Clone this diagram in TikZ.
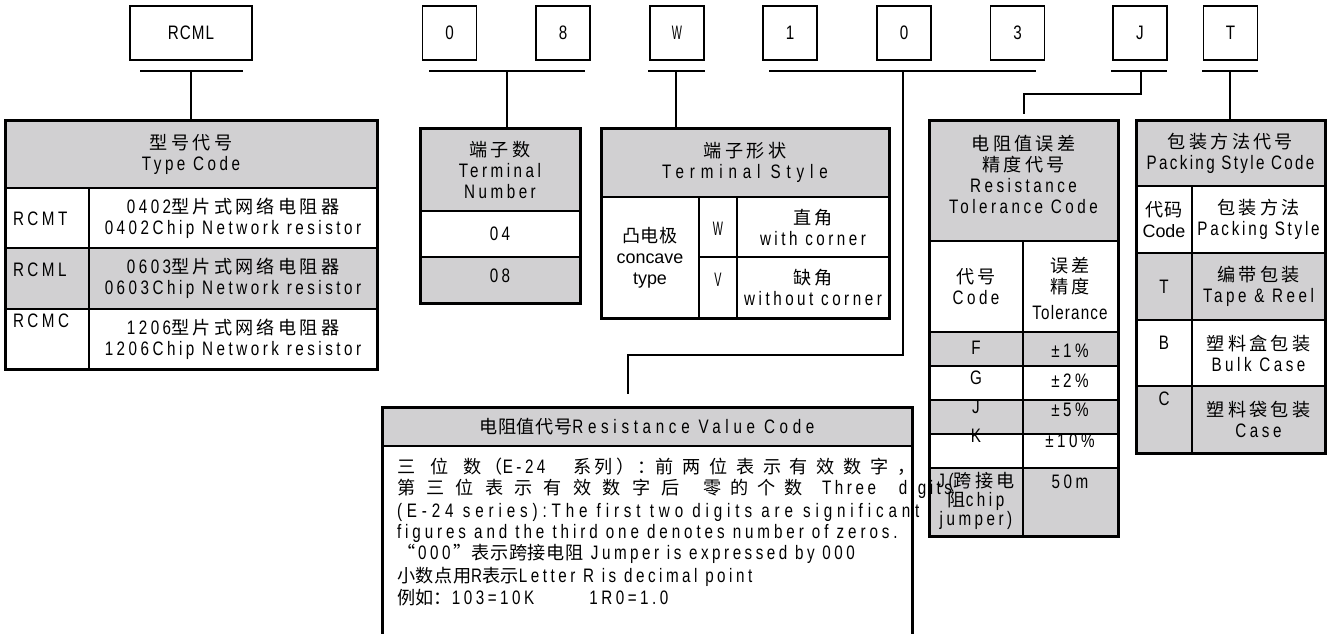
\documentclass[tikz,border=0pt]{standalone}
\usepackage{fontspec}
\usepackage{xcolor}
\setmainfont{Liberation Sans}[FakeStretch = 0.78, LetterSpace = 18]
\newfontfamily\cjk{Noto Sans CJK SC}[Scale = 0.93, LetterSpace = 18]
\newfontfamily\cjkw{Noto Sans CJK SC}[Scale = 0.93, LetterSpace = 48]
\newfontfamily\cjkww{Noto Sans CJK SC}[Scale = 0.93, LetterSpace = 62]
\newfontfamily\cjkn{Noto Sans CJK SC}[Scale = 0.93, LetterSpace = 3]
\newfontfamily\plainf{Liberation Sans}[Scale = 0.92]
\newfontfamily\thinf{Liberation Sans}[FakeStretch = 0.55]
\definecolor{cellgray}{RGB}{209,208,210}

\begin{document}
\begin{tikzpicture}[x = 1pt, y = -1pt,
                    every node/.append style = {inner sep = 0pt, outer sep = 0pt, font = \fontsize{19.5}{21}\selectfont},
                    cell/.style = {draw, line width = 1.9pt, anchor = north west, align = center},
                    cellsize/.style 2 args = {minimum width = #1pt, minimum height = #2pt},
                    darkcell/.style = {fill = cellgray},
                    codebox/.style = {draw, line width = 1.9pt, minimum width = 54pt, minimum height = 54pt},
                    thinchar/.style = {font = {\fontsize{19.5}{21}\thinf}},
                    tag/.style = {anchor = west},
                    textline/.style = {anchor = west},
                    bar/.style = {line width = 1.9pt},
                    link/.style = {line width = 1.9pt},
                    frame/.style = {line width = 3pt}]
                \useasboundingbox (0,0) rectangle (1334,633);
                \node[codebox, minimum width = 122pt] (rcml) at (191,33) {\addfontfeature{LetterSpace = 5}RCML};
                \node[codebox] (d0) at (449.5,33) {0};
                \node[codebox] (d8) at (563,33) {8};
                \node[codebox, thinchar] (dw) at (677,33) {W};
                \node[codebox] (d1) at (790,33) {1};
                \node[codebox] (d0b) at (904,33) {0};
                \node[codebox] (d3) at (1017.5,33) {3};
                \node[codebox] (dj) at (1140,33) {J};
                \node[codebox] (dt) at (1230.5,33) {T};
                \foreach \a/\b in {140/243, 429/585, 648/705, 769/1036, 1111/1167, 1202/1258}
                    \draw[bar] (\a,71) -- (\b,71);
                \coordinate (type-bar) at (191,71);
                \coordinate (num-bar) at (507,71);
                \coordinate (shape-bar) at (676,71);
                \coordinate (val-bar) at (903,71);
                \coordinate (tol-bar) at (1141,71);
                \coordinate (pack-bar) at (1230,71);

                \node[cell, cellsize = {372}{68}, darkcell] (typehead) at (5,120) {{\cjk 型号代号}\\Type Code};
                \node[cell, cellsize = {84}{60}] (rcmt) at (5,188) {};
                \node[cell, cellsize = {288}{60}] (rcmt-desc) at (89,188) {0402{\cjk 型片式网络电阻器}\\0402Chip Network resistor};
                \node[cell, cellsize = {84}{61}, darkcell] (rcml-row) at (5,248) {};
                \node[cell, cellsize = {288}{61}, darkcell] (rcml-desc) at (89,248) {0603{\cjk 型片式网络电阻器}\\0603Chip Network resistor};
                \node[cell, cellsize = {84}{60}] (rcmc) at (5,309) {};
                \node[cell, cellsize = {288}{60}] (rcmc-desc) at (89,309) {1206{\cjk 型片式网络电阻器}\\1206Chip Network resistor};
                \node[tag] (rcmt-tag) at (13,219) {RCMT};
                \node[tag] (rcml-tag) at (13,270) {RCML};
                \node[tag] (rcmc-tag) at (13,321) {RCMC};
                \draw[frame] (typehead.north west) rectangle (rcmc-desc.south east);

                \node[cell, cellsize = {160}{83}, darkcell] (numhead) at (420,128) {{\cjk 端子数}\\Terminal\\Number};
                \node[cell, cellsize = {160}{46}] (num04) at (420,211) {04};
                \node[cell, cellsize = {160}{46}, darkcell] (num08) at (420,257) {};
                \node (num08-tag) at (500,276) {08};
                \draw[frame] (numhead.north west) rectangle (num08.south east);

                \node[cell, cellsize = {288}{69}, darkcell] (stylehead) at (601,128) {{\cjk 端子形状}\\{\addfontfeature{LetterSpace = 30}Terminal Style}};
                \node[cell, cellsize = {98}{121}] (concave) at (601,197) {{\cjkn 凸电极}\\{\plainf concave}\\{\plainf type}};
                \node[cell, cellsize = {38}{60}] (style-w) at (699,197) {};
                \node[cell, cellsize = {38}{61}] (style-v) at (699,257) {};
                \node[cell, cellsize = {152}{60}] (corner) at (737,197) {{\cjk 直角}\\with corner};
                \node[cell, cellsize = {152}{61}] (nocorner) at (737,257) {{\cjk 缺角}\\without corner};
                \node[thinchar] (w-tag) at (718,229) {W};
                \node[thinchar] (v-tag) at (718,280) {V};
                \draw[frame] (stylehead.north west) rectangle (nocorner.south east);

                \node[cell, cellsize = {189}{121}, darkcell] (tolhead) at (929,120) {};
                \node[align = center] (tolhead-text) at (1023.5,174) {{\cjk 电阻值误差}\\{\cjk 精度代号}\\Resistance\\Tolerance Code};
                \node[cell, cellsize = {94}{91}] (codehd) at (929,241) {{\cjk 代号}\\Code};
                \node[cell, cellsize = {95}{91}] (tolhd) at (1023,241) {};
                \node[align = center] (tolhd-text) at (1070,288) {{\cjk 误差}\\{\cjk 精度}\\[5pt]{\addfontfeature{LetterSpace = 6}Tolerance}};
                \foreach \y/\h/\f [count = \i] in {332/34/darkcell, 366/34/, 400/34/darkcell, 434/34/, 468/68/darkcell} {
                    \node[cell, cellsize = {94}{\h}, \f] (tolcode-\i) at (929,\y) {};
                    \node[cell, cellsize = {95}{\h}, \f] (tolval-\i) at (1023,\y) {};
                }
                \node (code-f) at (976,348) {F};
                \node (code-g) at (976,378) {G};
                \node (code-j) at (976,407) {J};
                \node (code-k) at (976,436) {K};
                \node (val-f) at (1070,351) {±1\%};
                \node (val-g) at (1070,381) {±2\%};
                \node (val-j) at (1070,410) {±5\%};
                \node (val-k) at (1070,441) {±10\%};
                \node[align = center, font = \fontsize{19.5}{18}\selectfont] (code-jumper) at (976,501) {J({\cjk 跨接电}\\{\cjk 阻}chip\\jumper)};
                \node (val-jumper) at (1070,482) {50m};
                \draw[frame] (tolhead.north west) rectangle (tolval-5.south east);

                \node[cell, cellsize = {189}{66}, darkcell] (packhead) at (1136,120) {{\cjk 包装方法代号}\\{\addfontfeature{LetterSpace = 12}Packing Style Code}};
                \node[cell, cellsize = {56}{67}] (packcode) at (1136,186) {{\cjkn 代码}\\{\plainf Code}};
                \node[cell, cellsize = {133}{67}] (packway) at (1192,186) {{\cjk 包装方法}\\{\addfontfeature{LetterSpace = 14}Packing Style}};
                \node[cell, cellsize = {56}{67}, darkcell] (pack-t) at (1136,253) {T};
                \node[cell, cellsize = {133}{67}, darkcell] (pack-t-desc) at (1192,253) {{\cjk 编带包装}\\Tape \& Reel};
                \node[cell, cellsize = {56}{66}] (pack-b) at (1136,320) {};
                \node[cell, cellsize = {133}{66}] (pack-b-desc) at (1192,320) {{\cjk 塑料盒包装}\\Bulk Case};
                \node[cell, cellsize = {56}{67}, darkcell] (pack-c) at (1136,386) {};
                \node[cell, cellsize = {133}{67}, darkcell] (pack-c-desc) at (1192,386) {{\cjk 塑料袋包装}\\Case};
                \node (b-tag) at (1164,343) {B};
                \node (c-tag) at (1164,399) {C};
                \draw[frame] (packhead.north west) rectangle (pack-c-desc.south east);

                \node[cell, cellsize = {530}{39}, darkcell] (valhead) at (382,407) {{\cjkn 电阻值代号}{\addfontfeature{LetterSpace = 24}Resistance Value Code}};
                \node[cell, cellsize = {530}{200}] (valbody) at (382,446) {};
                \draw[frame] (valbody.south west) |- (valhead.north east) -- (valbody.south east);
                \node[textline] (line1) at (397,467) {{\cjk 三\hspace{15pt}位\hspace{15pt}数（}E-24\hspace{28pt}{\cjk 系列）：}{\cjkw 前两位表示有效数字，}};
                \node[textline] (line2) at (397,489) {{\cjkww 第三位表示有效数字后}\hspace{24pt}{\cjkw 零的个数}\hspace{20pt}Three\hspace{23pt}digits};
                \node[textline] (line3) at (397,512) {\addfontfeature{LetterSpace = 25}(E-24 series):The first two digits are\hspace{10pt}significant};
                \node[textline] (line4) at (397,533) {\addfontfeature{LetterSpace = 20}figures and the third one denotes number of zeros.};
                \node[textline] (line5) at (397,554) {{\cjk “}\hspace{3pt}000\hspace{3pt}{\cjk ”}{\cjkn 表示跨接电阻} Jumper is expressed by 000};
                \node[textline] (line6) at (397,577) {{\cjkn 小数点用}R{\cjkn 表示}Letter R is decimal point};
                \node[textline] (line7) at (397,598) {{\cjkn 例如}{\cjk ：}103=10K\hspace{55pt}1R0=1.0};

                \draw[link] (type-bar) -- (typehead.north);
                \draw[link] (num-bar) -- (num-bar |- numhead.north);
                \draw[link] (shape-bar) -- (shape-bar |- stylehead.north);
                \coordinate (val-knee) at (903,355);
                \coordinate (val-end) at (628,394);
                \draw[link] (val-bar) -- (val-knee) -| (val-end);
                \coordinate (tol-knee) at (1141,94);
                \coordinate (tol-end) at (1024,114);
                \draw[link] (tol-bar) -- (tol-knee) -| (tol-end);
                \draw[link] (pack-bar) -- (pack-bar |- packhead.north);
\end{tikzpicture}
\end{document}
